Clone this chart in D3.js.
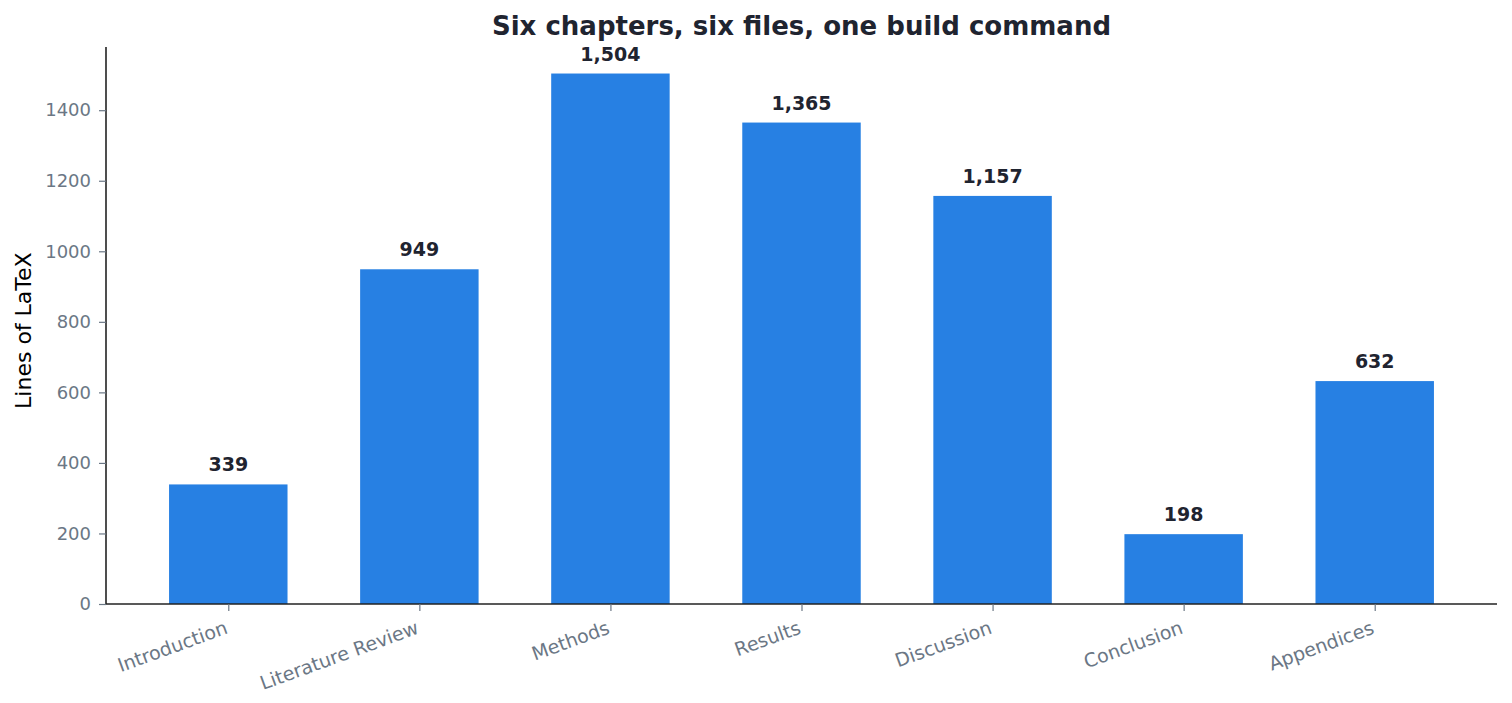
<!DOCTYPE html>
<html>
<head>
<meta charset="utf-8">
<script src="https://cdn.jsdelivr.net/npm/d3@7.9.0/dist/d3.min.js"></script>
<style>
  body { margin: 0; background: #fff; }
  svg, svg text { font-family: "DejaVu Sans", sans-serif; }
</style>
</head>
<body>
<div id="chart"></div>
<script>
// chapter line counts
const chapters = ["Introduction", "Literature Review", "Methods", "Results", "Discussion", "Conclusion", "Appendices"];
const lineCounts = [339, 949, 1504, 1365, 1157, 198, 632];
const yTicks = [0, 200, 400, 600, 800, 1000, 1200, 1400];

const W = 1512, H = 703;
const margin = { top: 47, right: 15, bottom: 99, left: 106 };
const width = W - margin.left - margin.right,
      height = H - margin.top - margin.bottom;

const svg = d3.select("#chart").append("svg")
  .attr("width", W).attr("height", H);

const g = svg.append("g")
  .attr("transform", `translate(${margin.left},${margin.top})`);

// x as a linear scale over bar indices (matplotlib-ish padding)
const x = d3.scaleLinear()
  .domain([-0.64, chapters.length - 1 + 0.64])
  .range([0, width]);
const barW = x(0.62) - x(0);

const y = d3.scaleLinear()
  .domain([0, d3.max(lineCounts) * 1.05])
  .range([height, 0]);

// bars
g.selectAll(".bar")
  .data(lineCounts)
  .enter().append("rect")
    .attr("class", "bar")
    .attr("x", (d, i) => x(i) - barW / 2)
    .attr("y", d => y(d))
    .attr("width", barW)
    .attr("height", d => height - y(d))
    .attr("fill", "#2780e3");

// value labels
g.selectAll(".val")
  .data(lineCounts)
  .enter().append("text")
    .attr("class", "val")
    .attr("x", (d, i) => x(i))
    .attr("y", d => y(d) - 13)
    .attr("text-anchor", "middle")
    .style("font-size", "19px")
    .style("font-weight", "bold")
    .attr("fill", "#1f2430")
    .text(d => d3.format(",")(d));

// y axis
const yAxis = g.append("g")
  .call(d3.axisLeft(y).tickValues(yTicks).tickSize(7).tickPadding(8).tickFormat(d3.format("d")));
yAxis.attr("font-family", null);
yAxis.select(".domain").attr("stroke", "#222").attr("stroke-width", 1.6)
  .attr("d", `M0,0V${height}`);
yAxis.selectAll(".tick line").attr("stroke", "#6b7785").attr("stroke-width", 1.2);
yAxis.selectAll(".tick text").attr("fill", "#6b7785").style("font-size", "18px");

// x axis
const xAxis = g.append("g")
  .attr("transform", `translate(0,${height})`)
  .call(d3.axisBottom(x).tickValues(d3.range(chapters.length)).tickSize(7)
    .tickFormat(i => chapters[i]));
xAxis.attr("font-family", null);
xAxis.select(".domain").attr("stroke", "#222").attr("stroke-width", 1.6)
  .attr("d", `M0,0H${width}`);
xAxis.selectAll(".tick line").attr("stroke", "#6b7785").attr("stroke-width", 1.2);
xAxis.selectAll(".tick text")
  .attr("fill", "#6b7785")
  .style("font-size", "19px")
  .attr("text-anchor", "end")
  .attr("dy", null)
  .attr("y", 0)
  .attr("transform", "translate(0,29) rotate(-20)");

// title
svg.append("text")
  .attr("x", margin.left + width / 2)
  .attr("y", 35)
  .attr("text-anchor", "middle")
  .style("font-size", "26px")
  .style("font-weight", "bold")
  .attr("fill", "#1f2430")
  .text("Six chapters, six files, one build command");

// y label
svg.append("text")
  .attr("transform", `translate(31,${margin.top + y(775)}) rotate(-90)`)
  .attr("text-anchor", "middle")
  .style("font-size", "22px")
  .attr("fill", "#000")
  .text("Lines of LaTeX");
</script>
</body>
</html>
